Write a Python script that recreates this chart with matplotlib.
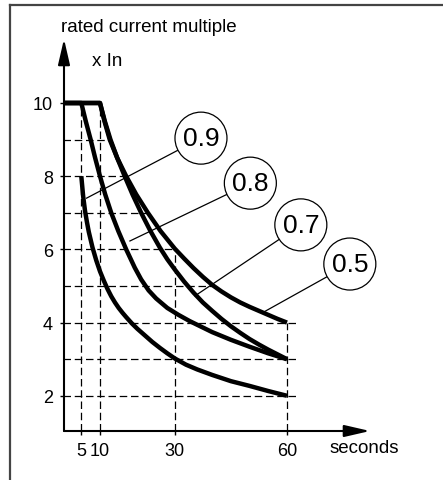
import matplotlib

matplotlib.use("Agg")
import matplotlib.pyplot as plt
from matplotlib.lines import Line2D
from matplotlib.patches import Ellipse

plt.rcParams["font.family"] = ["Liberation Sans", "DejaVu Sans"]

# tripping curves: (seconds, multiple of In)
c09_t = [5, 5.5, 6, 6.5, 7, 8, 9, 10, 11, 12, 13, 14, 15, 16, 17, 18.5, 20, 22, 24, 26, 28, 30,
         33, 36, 40, 45, 50, 55, 60]
c09_v = [8.0, 7.45, 7.05, 6.75, 6.48, 6.05, 5.7, 5.4, 5.15, 4.92, 4.72, 4.55, 4.4, 4.27, 4.15,
         3.98, 3.83, 3.65, 3.47, 3.31, 3.16, 3.02, 2.85, 2.72, 2.57, 2.4, 2.27, 2.13, 2.0]
c08_t = [0, 5, 6.2, 7.5, 8.7, 10, 11.4, 13, 14.9, 17, 19.3, 21, 23, 25, 28, 31, 34, 37, 40,
         45, 50, 55, 60]
c08_v = [10, 10, 9.5, 9, 8.5, 8, 7.5, 7, 6.5, 6, 5.5, 5.18, 4.88, 4.66, 4.4, 4.21, 4.04, 3.89,
         3.74, 3.53, 3.34, 3.16, 3.0]
c07_t = [0, 10, 11.3, 12.8, 14.6, 16.6, 18.7, 21, 23.5, 26, 28, 30, 32.5, 35, 37.5, 40, 42.5,
         45, 47.5, 50, 52.5, 55, 57.5, 60]
c07_v = [10, 10, 9.5, 9, 8.5, 8, 7.5, 7, 6.5, 6.05, 5.73, 5.45, 5.12, 4.82, 4.55, 4.32, 4.1,
         3.9, 3.72, 3.55, 3.4, 3.26, 3.13, 3.0]
c05_t = [0, 10, 11.2, 12.6, 14.6, 17, 19.7, 22.8, 26.2, 30, 32.5, 35, 37.5, 40, 42.5, 45, 47.5,
         50, 52.5, 55, 57.5, 60]
c05_v = [10, 10, 9.5, 9, 8.5, 8, 7.5, 7, 6.5, 6.02, 5.75, 5.49, 5.25, 5.03, 4.85, 4.69, 4.55,
         4.43, 4.32, 4.21, 4.1, 4.0]

curves = [(c09_t, c09_v), (c08_t, c08_v), (c07_t, c07_v), (c05_t, c05_v)]

# circled labels, their centres and where the leader touches the curve
labels = ["0.9", "0.8", "0.7", "0.5"]
label_x = [37.0, 50.2, 63.7, 76.8]
label_y = [9.04, 7.81, 6.67, 5.6]
leader_x = [6.4, 18.0, 35.4, 53.8]
leader_y = [7.4, 6.23, 4.73, 4.29]

# dashed guide lines
h_levels = [9, 8, 7, 6, 5, 4, 3, 2]
h_ends = [12.6, 17.0, 22.8, 30, 40, 63, 63, 63]
v_pos = [5, 10, 30, 60]
v_tops = [10, 10, 6, 4]

x_ticks = [5, 10, 30, 60]
y_ticks = [2, 4, 6, 8, 10]

W, H = 443, 481
X0, SX = 62.6, 3.74   # pixel of t=0, pixels per second
Y0, SY = 470.0, 36.6  # pixel of v=0, pixels per unit

fig = plt.figure(figsize=(W / 100, H / 100), dpi=100)
ax = fig.add_axes([64 / W, (H - 432) / H, 1 - 64 / W, 432 / H])
xmin, xmax = (64 - X0) / SX, (W - X0) / SX
ymin, ymax = (Y0 - 432) / SY, Y0 / SY
ax.set_xlim(xmin, xmax)
ax.set_ylim(ymin, ymax)
ax.set_facecolor("none")
for s in ax.spines.values():
    s.set_visible(False)

ax.set_xticks(x_ticks)
ax.set_xticklabels([str(t) for t in x_ticks])
ax.set_yticks(y_ticks)
ax.set_yticklabels([str(t) for t in y_ticks])
ax.tick_params(length=3, width=1, pad=5, labelsize=13, direction="out")

dash = (0, (6, 3))
for lev, end in zip(h_levels, h_ends):
    ax.plot([0, end], [lev, lev], ls=dash, lw=0.9, color="k")
for pos, top in zip(v_pos, v_tops):
    ax.plot([pos, pos], [ymin, top], ls=dash, lw=0.9, color="k")

for t, v in curves:
    ax.plot(t, v, lw=3.2, color="k", solid_joinstyle="round", solid_capstyle="butt", zorder=3)

# axes with arrow heads
arrow = dict(arrowstyle="-|>,head_length=1.3,head_width=0.3", lw=1.5, color="k",
             mutation_scale=12, shrinkA=0, shrinkB=0)
ax.annotate("", xy=(xmin, 11.75), xytext=(xmin, ymin), arrowprops=arrow, annotation_clip=False)
ax.annotate("", xy=(82.2, ymin), xytext=(xmin, ymin), arrowprops=arrow, annotation_clip=False)

r = 26  # circle radius in pixels
for name, cx, cy, lx, ly in zip(labels, label_x, label_y, leader_x, leader_y):
    ax.plot([lx, cx], [ly, cy], lw=0.9, color="k", zorder=4)
    ax.add_patch(Ellipse((cx, cy), 2 * r / SX, 2 * r / SY, fc="white", ec="k", lw=0.9, zorder=5))
    ax.text(cx, cy, name, ha="center", va="center", fontsize=19, zorder=6)

fig.text(61 / W, 1 - 27 / H, "rated current multiple", ha="left", va="center", fontsize=13.5)
fig.text(92 / W, 1 - 62 / H, "x In", ha="left", va="center", fontsize=13.5)
fig.text(330 / W, 1 - 449 / H, "seconds", ha="left", va="center", fontsize=13.5)

# outer frame (left and top edges only)
fig.add_artist(Line2D([10 / W, 10 / W], [0, 1 - 6 / H], transform=fig.transFigure, color="#444444", lw=1.6))
fig.add_artist(Line2D([10 / W, 1], [1 - 6 / H, 1 - 6 / H], transform=fig.transFigure, color="#444444", lw=1.6))

fig.savefig("out.png", dpi=100)
